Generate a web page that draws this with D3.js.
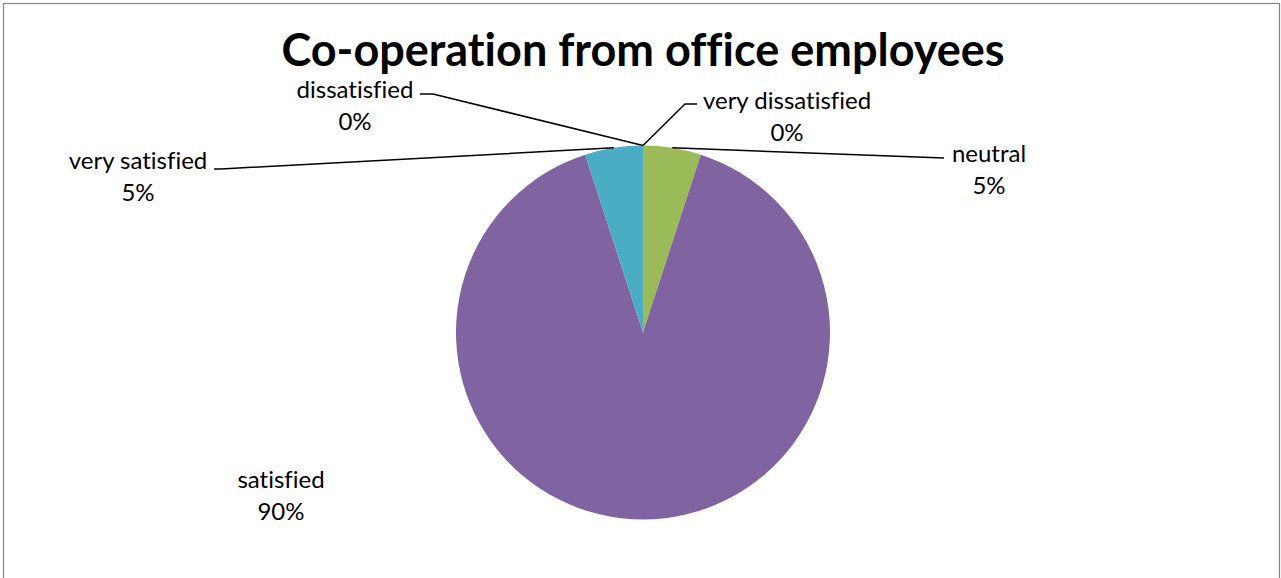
<!DOCTYPE html>
<html>
<head>
<meta charset="utf-8">
<script src="https://cdn.jsdelivr.net/npm/d3@7"></script>
<style>
  html, body { margin: 0; padding: 0; background: #fff; }
  svg { display: block; }
  text { font-variant-ligatures: none; }
</style>
</head>
<body>
<svg id="chart" width="1281" height="578"></svg>
<script>
// Survey answers, in data order
const categories = ["very dissatisfied", "dissatisfied", "neutral", "satisfied", "very satisfied"];
const values = [0, 0, 5, 90, 5];
const colors = ["#4F81BD", "#C0504D", "#9BBB59", "#8064A2", "#4BACC6"];
const title = "Co-operation from office employees";

// Label placement: text anchor point (centre of the two-line block) and the elbow of the leader line
const labelLayout = [
  { x: 787, y: 101, elbow: [[685, 104], [697, 104]] },
  { x: 355, y: 90,  elbow: [[433, 94],  [420, 94]] },
  { x: 989, y: 154, elbow: [[944, 158], [944, 158]] },
  { x: 281, y: 480, elbow: null },
  { x: 138, y: 161, elbow: [[221, 169], [214, 169]] }
];

const svg = d3.select("#chart");

// chart frame
svg.append("rect")
  .attr("x", 3.5).attr("y", 3.5)
  .attr("width", 1276).attr("height", 590)
  .attr("fill", "#fff").attr("stroke", "#868686").attr("stroke-width", 1.2);

svg.append("text")
  .attr("x", 643).attr("y", 65.5)
  .attr("text-anchor", "middle")
  .attr("font-family", "Lato, 'Open Sans', sans-serif")
  .attr("font-weight", "bold")
  .attr("font-size", 45)
  .attr("fill", "#000")
  .text(title);

const cx = 643, cy = 332.5, r = 187;
const total = d3.sum(values);

const pie = d3.pie().sort(null).value(d => d)(values);
const arc = d3.arc().innerRadius(0).outerRadius(r);

const g = svg.append("g").attr("transform", `translate(${cx},${cy})`);
g.selectAll("path.slice")
  .data(pie)
  .join("path")
  .attr("class", "slice")
  .attr("d", arc)
  .attr("fill", (d, i) => colors[i]);

// leader lines from each slice's outer edge mid-angle to its label
const edgePoint = d => {
  const a = (d.startAngle + d.endAngle) / 2;
  return [cx + r * Math.sin(a), cy - r * Math.cos(a)];
};

pie.forEach((d, i) => {
  const L = labelLayout[i];
  if (L.elbow) {
    const p = edgePoint(d);
    svg.append("polyline")
      .attr("points", [p, L.elbow[0], L.elbow[1]].map(q => q.join(",")).join(" "))
      .attr("fill", "none")
      .attr("stroke", "#000")
      .attr("stroke-width", 1.5);
  }
  const t = svg.append("text")
    .attr("text-anchor", "middle")
    .attr("font-family", "Lato, 'Open Sans', sans-serif")
    .attr("font-size", 24)
    .attr("fill", "#000");
  t.append("tspan").attr("x", L.x).attr("y", L.y + 8).text(categories[i]);
  t.append("tspan").attr("x", L.x).attr("y", L.y + 40)
    .text(d3.format(".0%")(values[i] / total));
});
</script>
</body>
</html>
